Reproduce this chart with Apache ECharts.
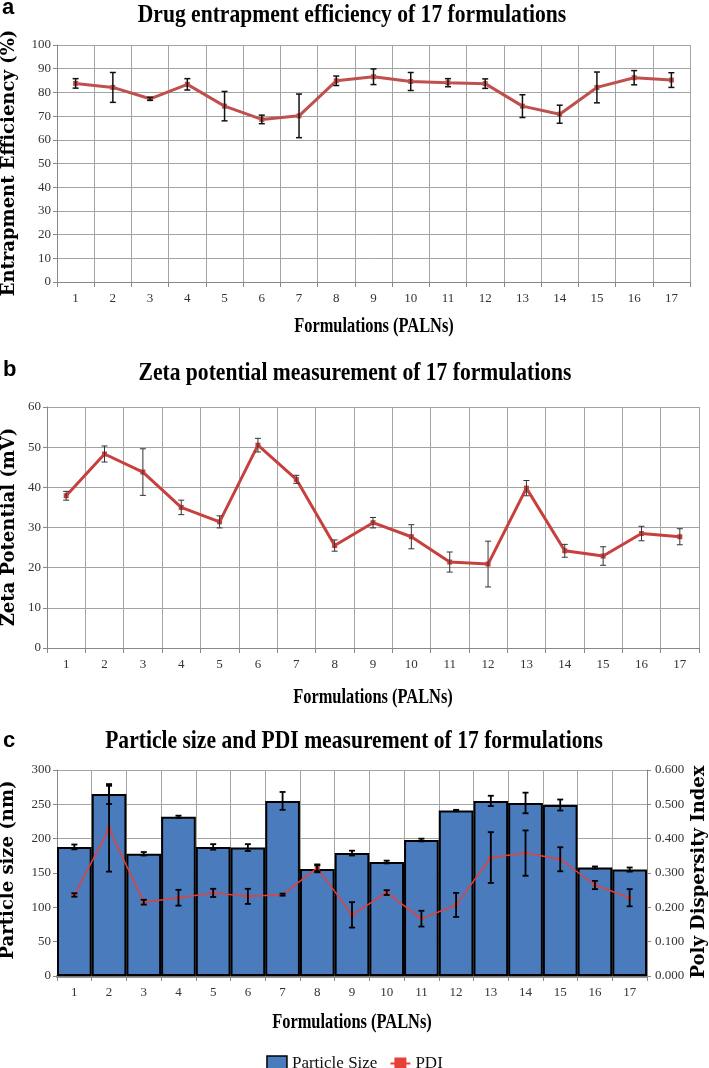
<!DOCTYPE html>
<html>
<head>
<meta charset="utf-8">
<script src="https://cdn.jsdelivr.net/npm/echarts@6/dist/echarts.min.js"></script>
<style>
html,body{margin:0;padding:0;background:#fff;}
#chart{width:709px;height:1068px;}
</style>
</head>
<body>
<div id="chart"></div>
<script>
// ---------- data ----------
const formulations = ['1','2','3','4','5','6','7','8','9','10','11','12','13','14','15','16','17'];

const eeMean = [83.8, 82.1, 77.3, 83.4, 74.2, 68.6, 70.1, 84.9, 86.6, 84.6, 84.1, 83.7, 74.2, 70.8, 82.1, 86.2, 85.2];
const eeErr  = [2.0, 6.3, 0.6, 2.4, 6.2, 1.8, 9.2, 2.0, 3.3, 3.8, 1.7, 2.0, 4.8, 3.8, 6.5, 3.0, 3.1];

const zetaMean = [37.9, 48.3, 43.8, 35.0, 31.4, 50.5, 42.0, 25.5, 31.2, 27.7, 21.4, 20.9, 39.8, 24.2, 22.9, 28.5, 27.7];
const zetaErr  = [1.1, 2.0, 5.8, 1.8, 1.5, 1.7, 1.0, 1.4, 1.3, 3.0, 2.5, 5.7, 1.9, 1.6, 2.3, 1.8, 2.0];

const sizeMean = [188, 265, 178, 232, 188, 187, 255, 156, 179, 166, 198, 241, 255, 252, 249, 158, 155];
const sizeErr  = [3.5, 14.5, 2.5, 1.5, 4, 5, 13, 5, 3.5, 2, 2, 1, 7.5, 15, 8, 1.5, 3];

const pdiMean = [0.236, 0.429, 0.215, 0.228, 0.242, 0.232, 0.237, 0.315, 0.178, 0.243, 0.167, 0.207, 0.345, 0.358, 0.340, 0.265, 0.228];
const pdiErr  = [0.005, 0.125, 0.007, 0.023, 0.012, 0.022, 0.003, 0.010, 0.037, 0.007, 0.023, 0.035, 0.074, 0.066, 0.035, 0.012, 0.025];

// ---------- helpers ----------
const SERIF = 'Liberation Serif';
const chart = echarts.init(document.getElementById('chart'), null, {renderer: 'canvas'});

function errorSeries(xi, yi, means, errs, stroke, lw, cap) {
  return {
    type: 'custom', xAxisIndex: xi, yAxisIndex: yi, silent: true, z: 10,
    encode: {x: 0, y: [1, 2]},
    data: means.map((m, i) => [i, m - errs[i], m + errs[i]]),
    renderItem: function (params, api) {
      const lo = api.coord([api.value(0), api.value(1)]);
      const hi = api.coord([api.value(0), api.value(2)]);
      const st = {stroke: stroke, lineWidth: lw};
      return {type: 'group', children: [
        {type: 'line', shape: {x1: hi[0], y1: hi[1], x2: lo[0], y2: lo[1]}, style: st},
        {type: 'line', shape: {x1: hi[0] - cap, y1: hi[1], x2: hi[0] + cap, y2: hi[1]}, style: st},
        {type: 'line', shape: {x1: lo[0] - cap, y1: lo[1], x2: lo[0] + cap, y2: lo[1]}, style: st}
      ]};
    }
  };
}

function catAxis(gi, axisColor, axisWidth) {
  return {
    type: 'category', gridIndex: gi, data: formulations, boundaryGap: true,
    axisLine: {show: true, lineStyle: {color: axisColor, width: axisWidth}},
    axisTick: {show: true, length: 5, lineStyle: {color: '#888'}},
    splitLine: {show: true, lineStyle: {color: '#a3a3a3', width: 1}},
    axisLabel: {fontFamily: SERIF, fontSize: 13, color: '#333', margin: 10}
  };
}
function valAxis(gi, max, interval, extra) {
  return Object.assign({
    type: 'value', gridIndex: gi, min: 0, max: max, interval: interval,
    axisLine: {show: true, lineStyle: {color: '#888'}},
    axisTick: {show: true, length: 4, lineStyle: {color: '#888'}},
    splitLine: {show: true, lineStyle: {color: '#a3a3a3', width: 1}},
    axisLabel: {fontFamily: SERIF, fontSize: 13, color: '#333', margin: 6}
  }, extra || {});
}

function titleText(x, y, text, size, sx) {
  return {type: 'text', x: x, y: y, scaleX: sx, silent: true,
    style: {text: text, fontFamily: SERIF, fontWeight: 'bold', fontSize: size, fill: '#000',
      align: 'center', verticalAlign: 'middle'}};
}
function yName(x, y, text) {
  return {type: 'text', x: x, y: y, rotation: Math.PI / 2, silent: true,
    style: {text: text, fontFamily: 'DejaVu Serif', fontWeight: 'bold', fontSize: 18, fill: '#000',
      align: 'center', verticalAlign: 'middle'}};
}
function panelLabel(x, y, text) {
  return {type: 'text', x: x, y: y, silent: true,
    style: {text: text, fontFamily: 'Liberation Sans', fontWeight: 'bold', fontSize: 22, fill: '#000',
      align: 'left', verticalAlign: 'middle'}};
}

const option = {
  animation: false,
  backgroundColor: '#fff',
  grid: [
    {left: 57, top: 45, width: 633, height: 237},
    {left: 47, top: 407, width: 652, height: 241},
    {left: 57, top: 770, width: 590, height: 206}
  ],
  xAxis: [
    catAxis(0, '#888', 1),
    catAxis(1, '#888', 1),
    catAxis(2, '#777', 2.5)
  ],
  yAxis: [
    valAxis(0, 100, 10),
    valAxis(1, 60, 10),
    valAxis(2, 300, 50),
    valAxis(2, 0.6, 0.1, {position: 'right', splitLine: {show: false},
      axisLabel: {fontFamily: SERIF, fontSize: 13, color: '#333', margin: 8,
        formatter: v => v.toFixed(3)}})
  ],
  legend: {
    data: [
      {name: 'Particle Size', icon: 'rect', itemStyle: {borderColor: '#000', borderWidth: 1.5}},
      {name: 'PDI'}
    ],
    left: 'center', top: 1050, itemWidth: 20, itemHeight: 15, itemGap: 12,
    textStyle: {fontFamily: SERIF, fontSize: 17, color: '#111'}
  },
  graphic: [
    panelLabel(2, 8, 'a'),
    panelLabel(3, 370, 'b'),
    panelLabel(3, 741, 'c'),
    titleText(352, 15, 'Drug entrapment efficiency of 17 formulations', 26, 0.83),
    titleText(355, 373, 'Zeta potential measurement of 17 formulations', 26, 0.83),
    titleText(354, 741, 'Particle size and PDI measurement of 17 formulations', 26, 0.83),
    titleText(374, 327, 'Formulations (PALNs)', 20, 0.82),
    titleText(373, 698, 'Formulations (PALNs)', 20, 0.82),
    titleText(352, 1023, 'Formulations (PALNs)', 20, 0.82),
    yName(9, 163, 'Entrapment Efficiency (%)'),
    yName(9, 527, 'Zeta Potential (mV)'),
    yName(8, 870, 'Particle size (nm)'),
    yName(699, 872, 'Poly Dispersity Index')
  ],
  series: [
    {name: 'EE', type: 'line', xAxisIndex: 0, yAxisIndex: 0, data: eeMean,
      symbol: 'rect', symbolSize: 5, lineStyle: {color: '#c0504d', width: 3},
      itemStyle: {color: '#c0504d'}, z: 5},
    errorSeries(0, 0, eeMean, eeErr, '#111', 1.5, 3),

    {name: 'Zeta', type: 'line', xAxisIndex: 1, yAxisIndex: 1, data: zetaMean,
      symbol: 'rect', symbolSize: 5, lineStyle: {color: '#c8403e', width: 3},
      itemStyle: {color: '#c8403e'}, z: 5},
    errorSeries(1, 1, zetaMean, zetaErr, '#333', 1, 3),

    {name: 'Particle Size', type: 'bar', xAxisIndex: 2, yAxisIndex: 2, data: sizeMean,
      barCategoryGap: '0%', itemStyle: {color: '#4a7bbd', borderColor: '#000', borderWidth: 2}, z: 3},
    errorSeries(2, 2, sizeMean, sizeErr, '#000', 1.8, 3),

    {name: 'PDI', type: 'line', xAxisIndex: 2, yAxisIndex: 3, data: pdiMean,
      symbol: 'rect', symbolSize: [5, 3], lineStyle: {color: '#e5403a', width: 1.5},
      itemStyle: {color: '#e5403a'}, z: 6},
    errorSeries(2, 3, pdiMean, pdiErr, '#000', 1.8, 3)
  ]
};
chart.setOption(option);
</script>
</body>
</html>
